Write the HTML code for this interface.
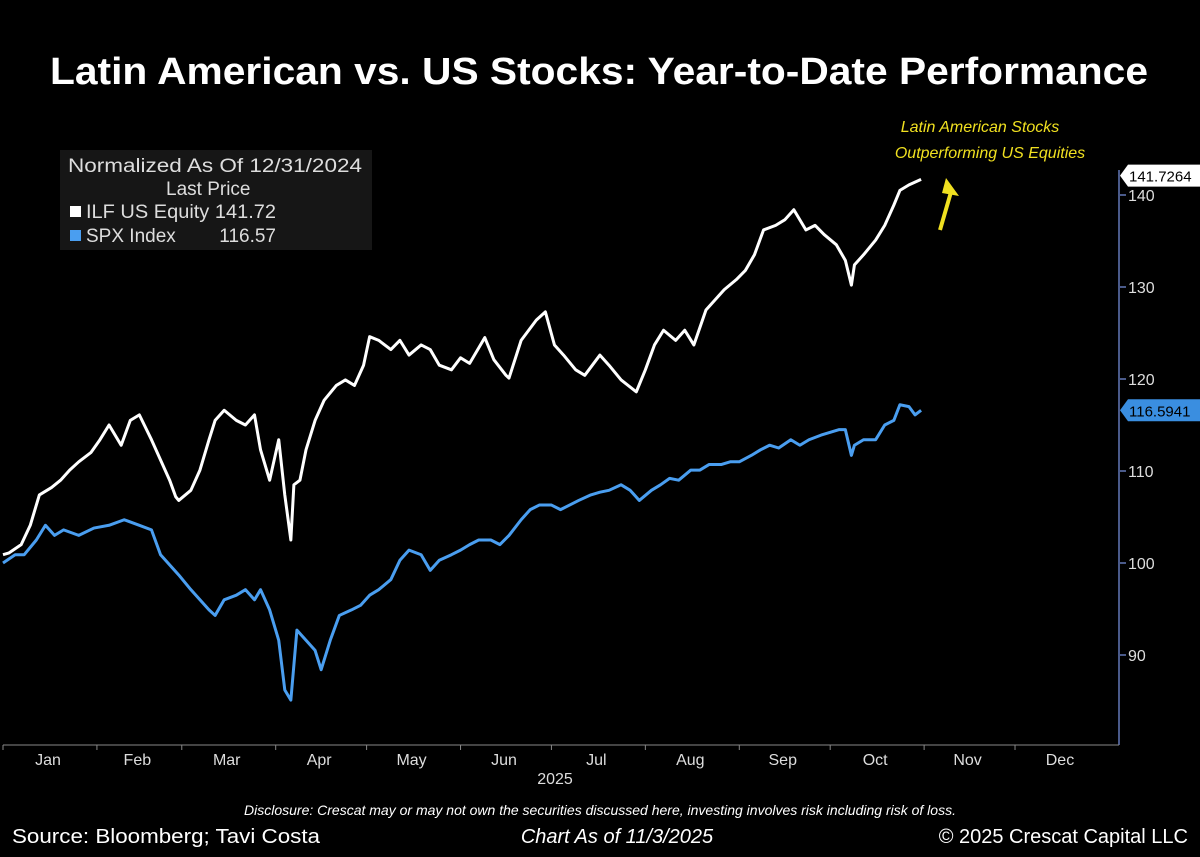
<!DOCTYPE html>
<html><head><meta charset="utf-8"><style>
body{margin:0;background:#000;width:1200px;height:857px;overflow:hidden;font-family:"Liberation Sans",sans-serif;color:#fff}
svg{position:absolute;left:0;top:0}
</style></head><body>
<svg width="1200" height="857">
<text x="50" y="84" textLength="1098" lengthAdjust="spacingAndGlyphs" font-size="38" font-weight="bold" fill="#fff">Latin American vs. US Stocks: Year-to-Date Performance</text>
<g>
<rect x="60" y="150" width="312" height="100" fill="#161616"/>
<text x="68" y="172" font-size="19" fill="#ddd" textLength="294" lengthAdjust="spacingAndGlyphs">Normalized As Of 12/31/2024</text>
<text x="166" y="195" font-size="19" fill="#ddd">Last Price</text>
<rect x="70" y="206" width="11" height="11" fill="#fff"/>
<text x="86" y="218" font-size="19" fill="#ddd" textLength="190" lengthAdjust="spacingAndGlyphs">ILF US Equity 141.72</text>
<rect x="70" y="230" width="11" height="11" fill="#4a9ef0"/>
<text x="86" y="242" font-size="19" fill="#ddd">SPX Index</text>
<text x="276" y="242" font-size="19" fill="#ddd" text-anchor="end">116.57</text>
</g>
<text x="980" y="132" text-anchor="middle" font-size="16" font-style="italic" fill="#f0e020">Latin American Stocks</text>
<text x="990" y="158" text-anchor="middle" font-size="16" font-style="italic" fill="#f0e020">Outperforming US Equities</text>
<g><line x1="940" y1="230" x2="951" y2="192" stroke="#f0e020" stroke-width="4"/><polygon points="946,178 959,196 942,193" fill="#f0e020"/></g>
<g id="axes"></g>
<g id="series"></g>
<text x="12" y="843" font-size="20" fill="#fff" textLength="308" lengthAdjust="spacingAndGlyphs">Source: Bloomberg; Tavi Costa</text>
<text x="617" y="843" text-anchor="middle" font-size="20" font-style="italic" fill="#fff">Chart As of 11/3/2025</text>
<text x="1188" y="843" text-anchor="end" font-size="20" fill="#fff">© 2025 Crescat Capital LLC</text>
<text x="600" y="815" text-anchor="middle" font-size="14" font-style="italic" fill="#fff">Disclosure: Crescat may or may not own the securities discussed here, investing involves risk including risk of loss.</text>
</svg>
<script>
const months=["Jan","Feb","Mar","Apr","May","Jun","Jul","Aug","Sep","Oct","Nov","Dec"];
const yTicks=[90,100,110,120,130,140];
const ilfDays=[0,2,6,9,12,16,19,22,25,29,32,35,39,42,45,49,52,55,57,58,62,65,68,70,73,77,80,83,85,88,91,93,95,96,98,100,103,106,110,113,116,119,121,124,128,131,134,138,141,144,148,151,154,159,162,166,167,171,176,179,182,185,189,192,197,200,204,209,212,215,218,222,225,228,232,235,238,242,245,248,251,255,258,261,265,268,271,275,278,280,281,284,288,291,294,296,299,303];
const ilfVals=[100.9,101.1,102.0,104.1,107.4,108.2,109.0,110.1,111.0,112.0,113.4,115.0,112.8,115.5,116.1,113.4,111.2,109.0,107.2,106.8,107.9,110.1,113.4,115.5,116.6,115.5,115.0,116.1,112.3,109.0,113.4,107.4,102.5,108.5,109.0,112.3,115.5,117.7,119.3,119.9,119.3,121.5,124.6,124.2,123.2,124.2,122.6,123.7,123.2,121.5,121.0,122.3,121.7,124.5,122.1,120.4,120.1,124.2,126.4,127.3,123.7,122.6,121.0,120.4,122.6,121.5,119.9,118.6,121.0,123.7,125.3,124.2,125.3,123.7,127.5,128.6,129.7,130.8,131.8,133.5,136.2,136.7,137.3,138.4,136.2,136.7,135.7,134.6,132.9,130.2,132.4,133.5,135.1,136.7,138.9,140.5,141.1,141.7];
const spxDays=[0,4,7,11,14,17,20,25,30,35,40,45,49,52,55,58,62,65,68,70,73,77,80,83,85,88,91,93,95,97,100,103,105,108,111,115,118,121,124,128,131,134,138,141,144,148,151,154,157,161,164,167,171,174,177,181,184,187,190,194,197,200,204,207,210,214,217,220,223,227,230,233,237,240,243,247,250,253,256,260,263,266,270,273,276,278,280,281,284,288,291,294,296,299,301,303];
const spxVals=[100,100.9,100.9,102.5,104.1,103.0,103.6,103.0,103.8,104.1,104.7,104.1,103.6,100.9,99.8,98.7,97.1,96.0,94.9,94.3,96.0,96.5,97.1,96.0,97.1,94.9,91.6,86.2,85.1,92.7,91.6,90.5,88.4,91.6,94.3,94.9,95.4,96.5,97.1,98.2,100.3,101.4,100.9,99.2,100.3,100.9,101.4,102.0,102.5,102.5,102.0,103.0,104.7,105.8,106.3,106.3,105.8,106.3,106.8,107.4,107.7,107.9,108.5,107.9,106.8,107.9,108.5,109.2,109.0,110.1,110.1,110.7,110.7,111.0,111.0,111.7,112.3,112.8,112.5,113.4,112.8,113.4,113.9,114.2,114.5,114.5,111.7,112.8,113.4,113.4,115.0,115.5,117.2,117.0,116.1,116.6];
const X=d=>3+d*3.03, Y=v=>563-(v-100)*9.2;
const NS="http://www.w3.org/2000/svg";
function mk(t,a,p){const e=document.createElementNS(NS,t);for(const k in a)e.setAttribute(k,a[k]);p.appendChild(e);return e;}
const ax=document.getElementById('axes');
const yaxis=mk('line',{x1:1119,y1:170,x2:1119,y2:745,stroke:'#4a5a8a','stroke-width':2},ax);


const xaxis=mk('line',{x1:3,y1:745,x2:1119,y2:745,stroke:'#888','stroke-width':1},ax);


yTicks.forEach(v=>{mk('line',{x1:1119,y1:Y(v),x2:1126,y2:Y(v),stroke:'#4a5a8a','stroke-width':2},ax);
const t=mk('text',{x:1128,y:Y(v)+6,'font-size':16,fill:'#ddd'},ax);t.textContent=v;

});
const mstart=[0,31,59,90,120,151,181,212,243,273,304,334,365];
months.forEach((m,i)=>{mk('line',{x1:X(mstart[i]),y1:745,x2:X(mstart[i]),y2:750,stroke:'#888'},ax);
const t=mk('text',{x:X((mstart[i]+mstart[i+1])/2)-2,y:765,'font-size':16,fill:'#ddd','text-anchor':'middle'},ax);t.textContent=m;

});
const yr=mk('text',{x:555,y:784,'font-size':16,fill:'#ddd','text-anchor':'middle'},ax);yr.textContent='2025';


const sg=document.getElementById('series');
function line(days,vals,col,name){const p=mk('polyline',{points:days.map((d,i)=>X(d)+','+Y(vals[i])).join(' '),fill:'none',stroke:col,'stroke-width':3,'stroke-linejoin':'round'},sg);

}
line(spxDays,spxVals,'#4a9ef0','spx-line');
line(ilfDays,ilfVals,'#fff','ilf-line');
function tag(v,txt,bg,fg,name){const y=Y(v);const g=mk('g',{},sg);


mk('polygon',{points:`1120,${y} 1128,${y-11} 1200,${y-11} 1200,${y+11} 1128,${y+11}`,fill:bg},g);
const t=mk('text',{x:1129,y:y+6,'font-size':15,fill:fg},g);t.textContent=txt;}
tag(ilfVals[ilfVals.length-1]+0.4,'141.7264','#fff','#000','ilf-last-price-tag');
tag(spxVals[spxVals.length-1],'116.5941','#3a8ee0','#000','spx-last-price-tag');
</script>
</body></html>
